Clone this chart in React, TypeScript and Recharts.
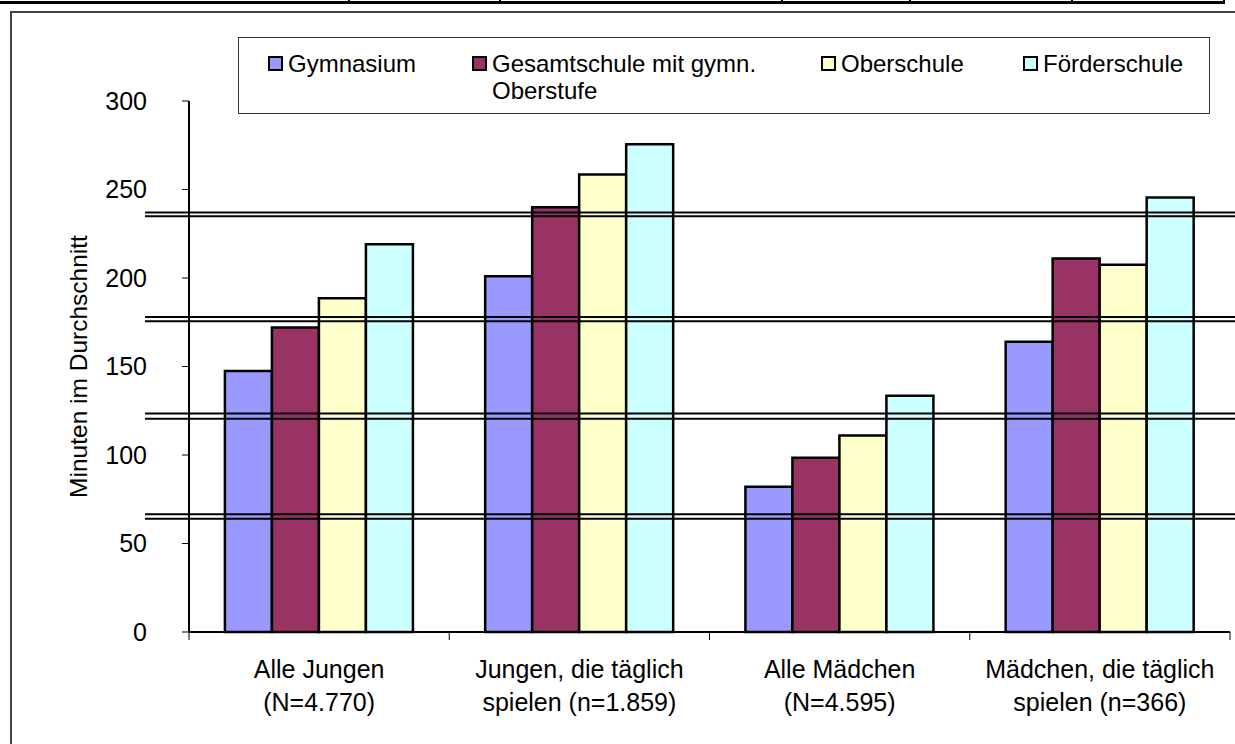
import React from 'react';
import {
    BarChart,
    Bar,
    XAxis,
    YAxis,
    Legend,
    ReferenceLine,
} from 'recharts';

// Kategorien (zweizeilige Achsenbeschriftung)
const categories = [
    'Alle Jungen\n(N=4.770)',
    'Jungen, die täglich\nspielen (n=1.859)',
    'Alle Mädchen\n(N=4.595)',
    'Mädchen, die täglich\nspielen (n=366)',
];

// Minuten im Durchschnitt je Schulform
const gymnasium = [147.5, 201, 82, 164];
const gesamtschule = [172, 240, 98.5, 211];
const oberschule = [188.5, 258.5, 111, 207.5];
const foerderschule = [219, 275.5, 133.5, 245.5];

const yTicks = [0, 50, 100, 150, 200, 250, 300];

// doppelte Querlinien aus der Vorlage (Werte auf der y-Achse)
const crossLines = [237.0, 234.9, 178.0, 175.6, 123.4, 120.5, 66.5, 64.0];

const SERIES = [
    { key: 'gymnasium', name: 'Gymnasium', color: '#9999FF' },
    { key: 'gesamtschule', name: 'Gesamtschule mit gymn. Oberstufe', color: '#993366' },
    { key: 'oberschule', name: 'Oberschule', color: '#FFFFCC' },
    { key: 'foerderschule', name: 'Förderschule', color: '#CCFFFF' },
];

const FONT = '"Liberation Sans", Arial, sans-serif';

const data = categories.map((name, i) => ({
    name,
    gymnasium: gymnasium[i],
    gesamtschule: gesamtschule[i],
    oberschule: oberschule[i],
    foerderschule: foerderschule[i],
}));

const CategoryTick = (props: any) => {
    const { x, y, payload, index } = props;
    const half = payload.offset ?? 130;
    const lines = String(payload.value).split('\n');
    return (
        <g>
            <line x1={x - half} y1={y} x2={x - half} y2={y + 8} stroke="#000" strokeWidth={1} />
            {index === categories.length - 1 && (
                <line x1={x + half} y1={y} x2={x + half} y2={y + 8} stroke="#000" strokeWidth={1} />
            )}
            {lines.map((line, i) => (
                <text
                    key={i}
                    x={x}
                    y={y + 46 + i * 33}
                    textAnchor="middle"
                    fontSize={25}
                    fontFamily={FONT}
                    fill="#000"
                >
                    {line}
                </text>
            ))}
        </g>
    );
};

const itemWidths = [204, 349, 202, 180];

const renderLegend = (props: any) => {
    // Reihenfolge wie die Balken, nicht alphabetisch
    const order = SERIES.map((s) => s.name);
    const payload = [...(props.payload || [])].sort(
        (a: any, b: any) => order.indexOf(a.value) - order.indexOf(b.value)
    );
    return (
        <div
            style={{
                boxSizing: 'border-box',
                width: '100%',
                height: '100%',
                background: '#fff',
                border: '1.5px solid #333',
                display: 'flex',
                paddingLeft: 29,
                paddingTop: 12,
                fontFamily: FONT,
                fontSize: 24,
                lineHeight: '27px',
                color: '#000',
            }}
        >
            {payload.map((entry: any, i: number) => (
                <div key={entry.value} style={{ display: 'flex', width: itemWidths[i], alignItems: 'flex-start' }}>
                    <div
                        style={{
                            boxSizing: 'border-box',
                            width: 15,
                            height: 15,
                            marginTop: 6,
                            marginRight: 5,
                            background: entry.color,
                            border: '2px solid #000',
                            flexShrink: 0,
                        }}
                    />
                    <span style={{ maxWidth: 285 }}>{entry.value}</span>
                </div>
            ))}
        </div>
    );
};

const dividers = [348, 499, 781, 909, 1071, 1223];

export default function App() {
    return (
        <div
            style={{
                position: 'absolute',
                left: 0,
                top: 0,
                width: 1235,
                height: 744,
                overflow: 'hidden',
                background: '#fff',
                fontFamily: FONT,
            }}
        >
            {/* Tabellenrand oben */}
            <div style={{ position: 'absolute', left: 0, top: 1, width: 1225, height: 3, background: '#000' }} />
            {dividers.map((d) => (
                <div key={d} style={{ position: 'absolute', left: d, top: 0, width: 2, height: 4, background: '#000' }} />
            ))}
            {/* Rahmen des Diagramms */}
            <div
                style={{
                    position: 'absolute',
                    left: 10,
                    top: 11,
                    width: 1260,
                    height: 760,
                    border: '2px solid #444',
                }}
            />
            <div style={{ position: 'absolute', left: 0, top: 0 }}>
                <BarChart
                    width={1235}
                    height={744}
                    data={data}
                    margin={{ top: 101, right: 5, left: 0, bottom: 0 }}
                    barCategoryGap="13.8%"
                    barGap={0}
                >
                    <XAxis
                        dataKey="name"
                        height={112}
                        interval={0}
                        tickLine={false}
                        tickSize={0}
                        tickMargin={0}
                        axisLine={{ stroke: '#000', strokeWidth: 2 }}
                        tick={<CategoryTick />}
                    />
                    <XAxis
                        xAxisId="top"
                        dataKey="name"
                        orientation="top"
                        height={0}
                        tick={false}
                        tickLine={false}
                        axisLine={{ stroke: '#000', strokeWidth: 2 }}
                    />
                    <YAxis
                        width={189}
                        domain={[0, 300]}
                        ticks={yTicks}
                        interval={0}
                        tickSize={7}
                        tickMargin={35}
                        tickLine={{ stroke: '#000', strokeWidth: 1 }}
                        axisLine={{ stroke: '#000', strokeWidth: 2 }}
                        tick={{ fontSize: 25, fill: '#000', fontFamily: FONT }}
                        label={{
                            content: (p: any) => {
                                const vb = p.viewBox || { x: 0, y: 101, height: 531 };
                                const cx = vb.x + 78;
                                const cy = vb.y + vb.height / 2;
                                return (
                                    <text
                                        x={cx}
                                        y={cy}
                                        transform={`rotate(-90, ${cx}, ${cy})`}
                                        textAnchor="middle"
                                        dominantBaseline="central"
                                        fontSize={24.5}
                                        fontFamily={FONT}
                                        fill="#000"
                                    >
                                        Minuten im Durchschnitt
                                    </text>
                                );
                            },
                        }}
                    />
                    <YAxis
                        yAxisId="right"
                        orientation="right"
                        width={0}
                        domain={[0, 300]}
                        tick={false}
                        tickLine={false}
                        axisLine={{ stroke: '#000', strokeWidth: 2 }}
                    />
                    {SERIES.map((s) => (
                        <Bar
                            key={s.key}
                            dataKey={s.key}
                            name={s.name}
                            fill={s.color}
                            stroke="#000"
                            strokeWidth={2.5}
                            isAnimationActive={false}
                        />
                    ))}
                    {crossLines.map((v) => (
                        <ReferenceLine
                            key={v}
                            y={v}
                            ifOverflow="visible"
                            shape={(p: any) => (
                                <line x1={p.x1 - 44} y1={p.y1} x2={p.x2 + 6} y2={p.y2} stroke="#000" strokeWidth={2} />
                            )}
                        />
                    ))}
                    <Legend
                        layout="horizontal"
                        verticalAlign="middle"
                        align="center"
                        content={renderLegend}
                        wrapperStyle={{ left: 238, top: 37, width: 972, height: 77 }}
                    />
                </BarChart>
            </div>
        </div>
    );
}
